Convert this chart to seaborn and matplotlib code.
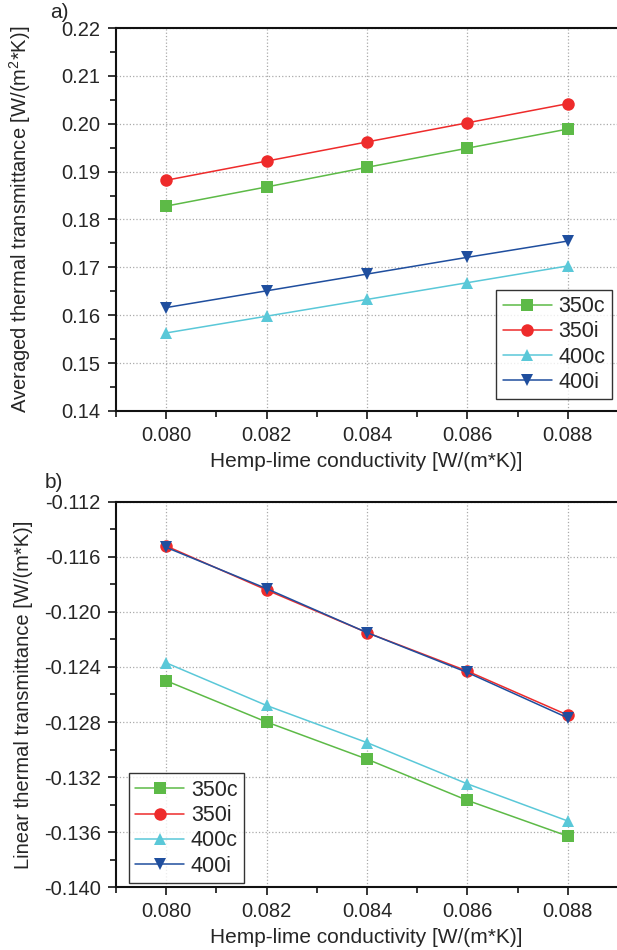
import pandas as pd
import seaborn as sns
import matplotlib.pyplot as plt
from matplotlib.ticker import MultipleLocator, FormatStrFormatter

# conductivity values on the x axis
conductivity = [0.080, 0.082, 0.084, 0.086, 0.088]
series_names = ["350c", "350i", "400c", "400i"]

# a) averaged thermal transmittance
u_350c = [0.1828, 0.1868, 0.1909, 0.1949, 0.1989]
u_350i = [0.1882, 0.1922, 0.1962, 0.2002, 0.2042]
u_400c = [0.1563, 0.1598, 0.1633, 0.1668, 0.1703]
u_400i = [0.1616, 0.1651, 0.1686, 0.1721, 0.1755]

# b) linear thermal transmittance
psi_350c = [-0.1250, -0.1280, -0.1307, -0.1337, -0.1363]
psi_350i = [-0.1152, -0.1184, -0.1215, -0.1243, -0.1275]
psi_400c = [-0.1237, -0.1268, -0.1295, -0.1325, -0.1352]
psi_400i = [-0.1153, -0.1183, -0.1215, -0.1244, -0.1277]

colors = {"350c": "#5dba47", "350i": "#ee2b2b", "400c": "#5ac8d8", "400i": "#1f4e9e"}
markers = {"350c": "s", "350i": "o", "400c": "^", "400i": "v"}


def long_table(values):
    rows = []
    for name, vals in zip(series_names, values):
        for x, y in zip(conductivity, vals):
            rows.append({"x": x, "y": y, "series": name})
    return pd.DataFrame(rows)


top_df = long_table([u_350c, u_350i, u_400c, u_400i])
bottom_df = long_table([psi_350c, psi_350i, psi_400c, psi_400i])

sns.set_style("white")
plt.rcParams["font.family"] = ["Liberation Sans", "DejaVu Sans"]
plt.rcParams["mathtext.fontset"] = "custom"
plt.rcParams["mathtext.rm"] = "Liberation Sans"

fig = plt.figure(figsize=(6.17, 9.5), dpi=100)
ax1 = fig.add_axes([0.1880, 0.5674, 0.8120, 0.4031])
ax2 = fig.add_axes([0.1880, 0.0663, 0.8120, 0.4053])


def draw(ax, df, ylim, major, minor, yfmt, ylabel, legend_loc, legend_anchor):
    for name in series_names:
        sub = df[df["series"] == name]
        sns.lineplot(data=sub, x="x", y="y", ax=ax, color=colors[name],
                     marker=markers[name], markersize=9, markeredgewidth=0,
                     linewidth=1.1, label=name)
    ax.set_xlim(0.079, 0.08898)
    ax.set_ylim(*ylim)
    ax.xaxis.set_major_locator(MultipleLocator(0.002))
    ax.xaxis.set_minor_locator(MultipleLocator(0.001))
    ax.xaxis.set_major_formatter(FormatStrFormatter("%.3f"))
    ax.yaxis.set_major_locator(MultipleLocator(major))
    ax.yaxis.set_minor_locator(MultipleLocator(minor))
    ax.yaxis.set_major_formatter(FormatStrFormatter(yfmt))
    ax.grid(True, which="major", linestyle=":", color="#aaaaaa", linewidth=0.9)
    ax.tick_params(which="major", direction="out", length=6, width=1.3,
                   labelsize=14.5, bottom=True, left=True, pad=5)
    ax.tick_params(which="minor", direction="out", length=4, width=1.3,
                   bottom=True, left=True)
    for side in ["left", "bottom", "top"]:
        ax.spines[side].set_linewidth(1.5)
        ax.spines[side].set_color("#111111")
    ax.spines["right"].set_visible(False)
    ax.set_xlabel("Hemp-lime conductivity [W/(m*K)]", fontsize=15, labelpad=5)
    ax.set_ylabel(ylabel, fontsize=14.5)
    ax.yaxis.set_label_coords(-0.166, 0.5)
    leg = ax.legend(loc=legend_loc, bbox_to_anchor=legend_anchor, fontsize=15.5,
                    frameon=True, fancybox=False, edgecolor="black",
                    handlelength=2.3, handletextpad=0.3, borderpad=0.3,
                    labelspacing=0.2, borderaxespad=0)
    leg.get_frame().set_linewidth(1.0)


draw(ax1, top_df, (0.14, 0.22), 0.01, 0.005, "%.2f",
     "Averaged thermal transmittance [W/(m$^2$*K)]",
     "lower right", (0.99, 0.03))
draw(ax2, bottom_df, (-0.140, -0.112), 0.004, 0.002, "%.3f",
     "Linear thermal transmittance [W/(m*K)]",
     "lower left", (0.025, 0.01))

fig.text(0.082, 0.987, "a)", fontsize=15, ha="left", va="center")
fig.text(0.072, 0.492, "b)", fontsize=15, ha="left", va="center")

plt.savefig("out.png", dpi=100)
